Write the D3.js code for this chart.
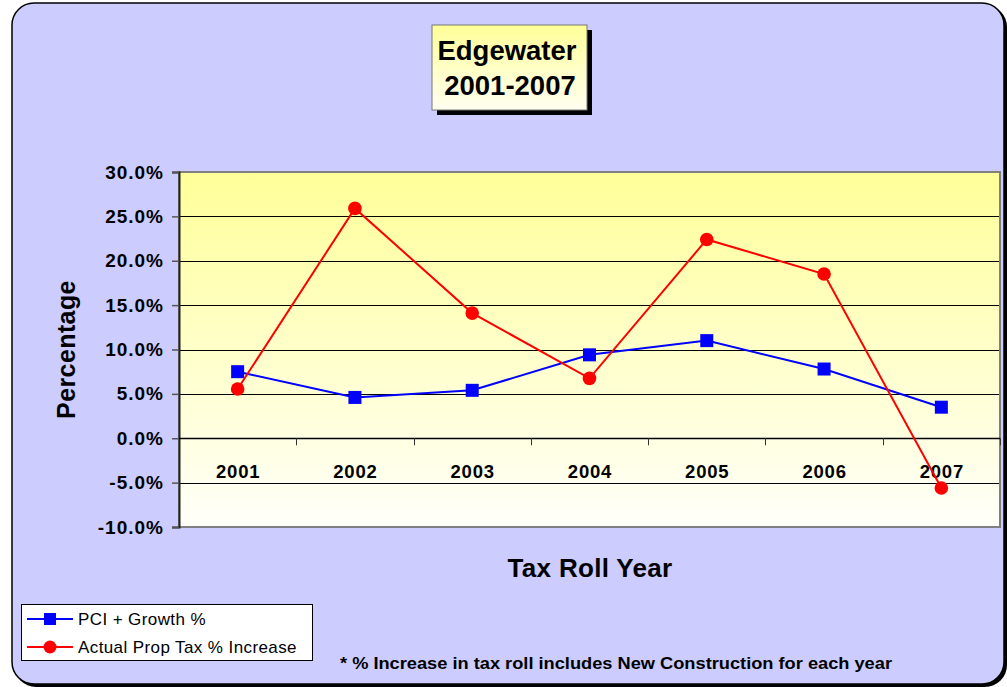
<!DOCTYPE html>
<html>
<head>
<meta charset="utf-8">
<script src="https://cdn.jsdelivr.net/npm/d3@7"></script>
<style>
  html, body { margin: 0; padding: 0; background: #ffffff; }
  svg { display: block; font-family: Arial, "Liberation Sans", sans-serif; }
</style>
</head>
<body>
<svg id="chart" width="1007" height="687"></svg>
<script>
// Tax roll years and the two percentage series
const years = ["2001", "2002", "2003", "2004", "2005", "2006", "2007"];
const pciGrowth = [7.5, 4.6, 5.4, 9.4, 11.0, 7.8, 3.5];
const actualPropTax = [5.55, 25.9, 14.1, 6.75, 22.4, 18.5, -5.6];
const yTicks = [-10, -5, 0, 5, 10, 15, 20, 25, 30];
const seriesNames = ["PCI + Growth %", "Actual Prop Tax % Increase"];

const svg = d3.select("#chart");

// Gradients
const defs = svg.append("defs");
const plotGrad = defs.append("linearGradient").attr("id", "plotGrad")
  .attr("x1", 0).attr("y1", 0).attr("x2", 0).attr("y2", 1);
plotGrad.append("stop").attr("offset", "0%").attr("stop-color", "#ffff99");
plotGrad.append("stop").attr("offset", "100%").attr("stop-color", "#fffffa");
const titleGrad = defs.append("linearGradient").attr("id", "titleGrad")
  .attr("x1", 0).attr("y1", 0).attr("x2", 0).attr("y2", 1);
titleGrad.append("stop").attr("offset", "0%").attr("stop-color", "#ffff99");
titleGrad.append("stop").attr("offset", "100%").attr("stop-color", "#fffff0");

// Chart background panel
svg.append("rect")
  .attr("x", 14).attr("y", 5).attr("width", 993).attr("height", 682)
  .attr("rx", 22).attr("fill", "#000");
svg.append("rect")
  .attr("x", 12).attr("y", 3).attr("width", 992).attr("height", 681)
  .attr("rx", 22).attr("fill", "#ccccff")
  .attr("stroke", "#000").attr("stroke-width", 1.5);

// Plot area
const plot = { left: 179, top: 172, right: 1000, bottom: 527 };

const x = d3.scaleBand().domain(years).range([plot.left, plot.right]).padding(0);
const y = d3.scaleLinear().domain([-10, 30]).range([plot.bottom, plot.top]);

svg.append("rect")
  .attr("x", plot.left).attr("y", plot.top)
  .attr("width", plot.right - plot.left).attr("height", plot.bottom - plot.top)
  .attr("fill", "url(#plotGrad)");

// Horizontal gridlines
svg.append("g").selectAll("line").data(yTicks.filter(d => d > -10 && d < 30)).join("line")
  .attr("x1", plot.left).attr("x2", plot.right)
  .attr("y1", d => Math.round(y(d)) + 0.5).attr("y2", d => Math.round(y(d)) + 0.5)
  .attr("stroke", "#000").attr("stroke-width", 1);

// Plot border
svg.append("rect")
  .attr("x", plot.left).attr("y", plot.top)
  .attr("width", plot.right - plot.left).attr("height", plot.bottom - plot.top)
  .attr("fill", "none").attr("stroke", "#808080").attr("stroke-width", 2);

// Y axis (plain hyphen for negative values)
const pct = d => (d < 0 ? "-" : "") + Math.abs(d).toFixed(1) + "%";
const yAxis = d3.axisLeft(y).tickValues(yTicks)
  .tickFormat(pct).tickSize(7).tickPadding(9);
const gy = svg.append("g").attr("transform", `translate(${plot.left},0)`).call(yAxis);
gy.select(".domain").attr("stroke", "#222").attr("stroke-width", 2);
gy.selectAll(".tick line").attr("stroke", "#555").attr("stroke-width", 1.5);
gy.selectAll(".tick text")
  .attr("font-family", "Arial, 'Liberation Sans', sans-serif")
  .attr("font-size", 19).attr("font-weight", "bold").attr("fill", "#000")
  .attr("letter-spacing", 1).attr("dx", 1);

// X axis at zero with ticks at category boundaries
const xAxisG = svg.append("g");
xAxisG.append("line")
  .attr("x1", plot.left).attr("x2", plot.right)
  .attr("y1", Math.round(y(0)) + 0.5).attr("y2", Math.round(y(0)) + 0.5)
  .attr("stroke", "#000").attr("stroke-width", 1.5);
xAxisG.selectAll("line.tick").data(years.slice(1).concat(["end"])).join("line")
  .attr("class", "tick")
  .attr("x1", (d, i) => Math.round(plot.left + x.bandwidth() * (i + 1)) + 0.5)
  .attr("x2", (d, i) => Math.round(plot.left + x.bandwidth() * (i + 1)) + 0.5)
  .attr("y1", y(0)).attr("y2", y(0) + 7)
  .attr("stroke", "#333").attr("stroke-width", 1);
xAxisG.selectAll("text").data(years).join("text")
  .attr("x", d => x(d) + x.bandwidth() / 2 + 0.5)
  .attr("y", y(0) + 40)
  .attr("text-anchor", "middle")
  .attr("font-size", 18.5).attr("font-weight", "bold").attr("fill", "#000")
  .attr("letter-spacing", 0.8)
  .text(d => d);

// Axis titles
svg.append("text")
  .attr("transform", `translate(75,${(plot.top + plot.bottom) / 2}) rotate(-90)`)
  .attr("text-anchor", "middle")
  .attr("font-size", 25).attr("font-weight", "bold").attr("fill", "#000")
  .attr("letter-spacing", 0.4)
  .text("Percentage");
svg.append("text")
  .attr("x", 590).attr("y", 577)
  .attr("text-anchor", "middle")
  .attr("font-size", 26).attr("font-weight", "bold").attr("fill", "#000")
  .attr("letter-spacing", 0.3)
  .text("Tax Roll Year");

// Series lines and markers
const cx = d => x(d) + x.bandwidth() / 2;
const line = d3.line().x(d => cx(d.year)).y(d => y(d.value));
const blueData = years.map((yr, i) => ({ year: yr, value: pciGrowth[i] }));
const redData = years.map((yr, i) => ({ year: yr, value: actualPropTax[i] }));

svg.append("path").datum(blueData)
  .attr("d", line).attr("fill", "none").attr("stroke", "#0000ff").attr("stroke-width", 2);
svg.append("g").selectAll("rect").data(blueData).join("rect")
  .attr("x", d => cx(d.year) - 6.5).attr("y", d => y(d.value) - 6.5)
  .attr("width", 13).attr("height", 13).attr("fill", "#0000ff");

svg.append("path").datum(redData)
  .attr("d", line).attr("fill", "none").attr("stroke", "#ff0000").attr("stroke-width", 2);
svg.append("g").selectAll("circle").data(redData).join("circle")
  .attr("cx", d => cx(d.year)).attr("cy", d => y(d.value))
  .attr("r", 6.8).attr("fill", "#ff0000");

// Title box with drop shadow
const tb = { x: 432, y: 25, w: 155, h: 85 };
svg.append("rect").attr("x", tb.x + 5).attr("y", tb.y + 5)
  .attr("width", tb.w).attr("height", tb.h).attr("fill", "#000");
svg.append("rect").attr("x", tb.x).attr("y", tb.y)
  .attr("width", tb.w).attr("height", tb.h)
  .attr("fill", "url(#titleGrad)").attr("stroke", "#777").attr("stroke-width", 1);
svg.append("text").attr("x", 507).attr("y", 60)
  .attr("text-anchor", "middle")
  .attr("font-size", 27.5).attr("font-weight", "bold").attr("fill", "#000")
  .text("Edgewater");
svg.append("text").attr("x", 510).attr("y", 95)
  .attr("text-anchor", "middle")
  .attr("font-size", 27.5).attr("font-weight", "bold").attr("fill", "#000")
  .text("2001-2007");

// Legend
const lg = svg.append("g");
lg.append("rect").attr("x", 21.5).attr("y", 604.5).attr("width", 291).attr("height", 56)
  .attr("fill", "#fff").attr("stroke", "#000").attr("stroke-width", 1);
const legendColors = ["#0000ff", "#ff0000"];
seriesNames.forEach((name, i) => {
  const ly = 619 + i * 28;
  lg.append("line").attr("x1", 27).attr("x2", 73).attr("y1", ly).attr("y2", ly)
    .attr("stroke", legendColors[i]).attr("stroke-width", 2);
  if (i === 0) {
    lg.append("rect").attr("x", 44).attr("y", ly - 6).attr("width", 12).attr("height", 12)
      .attr("fill", legendColors[i]);
  } else {
    lg.append("circle").attr("cx", 50).attr("cy", ly).attr("r", 6.5).attr("fill", legendColors[i]);
  }
  lg.append("text").attr("x", 78).attr("y", ly + 6)
    .attr("font-size", 17).attr("fill", "#000")
    .attr("letter-spacing", 0.4)
    .text(name);
});

// Footnote
svg.append("text").attr("x", 340).attr("y", 669)
  .attr("font-size", 17).attr("font-weight", "bold").attr("fill", "#000")
  .attr("textLength", 552).attr("lengthAdjust", "spacingAndGlyphs")
  .text("* % Increase in tax roll includes New Construction for each year");
</script>
</body>
</html>
